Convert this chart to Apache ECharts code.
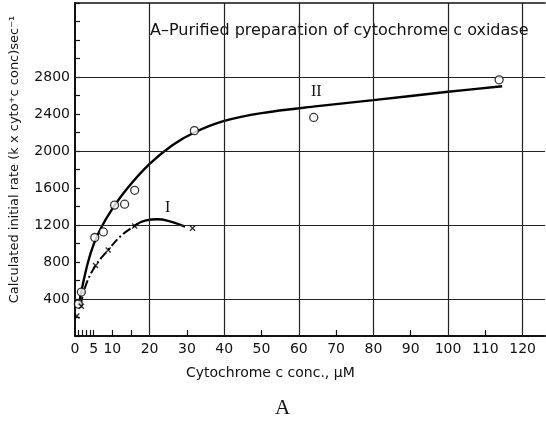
<!DOCTYPE html>
<html>
<head>
<meta charset="utf-8">
<script src="https://cdn.jsdelivr.net/npm/echarts@6/dist/echarts.min.js"></script>
<style>
  html, body { margin: 0; padding: 0; background: #fff; }
  #chart { width: 546px; height: 424px; }
</style>
</head>
<body>
<div id="chart"></div>
<script>
// Curve II: purified oxidase, measured points (open circles) and fitted curve
const pointsII = [[0.9, 345], [1.7, 475], [5.3, 1065], [7.6, 1125], [10.6, 1415], [13.3, 1425],
                  [16, 1575], [32, 2220], [64, 2363], [113.7, 2770]];
const curveII = [[1.0, 330], [2, 540], [3.5, 800], [5, 990], [7, 1170], [10, 1375], [14, 1595],
                 [20, 1860], [26, 2060], [32, 2200], [40, 2325], [50, 2410], [65, 2485],
                 [80, 2550], [100, 2640], [114.5, 2700]];
// Curve I: measured points (crosses), dash-dot rise and solid arc
const pointsI = [[0.5, 215], [1.7, 322], [5.5, 761], [8.9, 930], [16, 1190], [31.5, 1166]];
const curveIRise = [[1.5, 330], [3, 560], [5.5, 760], [8.9, 930], [12.5, 1090], [16, 1190]];
const curveIArc = [[16, 1192], [19, 1250], [22, 1262], [25, 1245], [29.5, 1182]];

// Axis ticks, labels and grid lines
const xLabelValues = [0, 5, 10, 20, 30, 40, 50, 60, 70, 80, 90, 100, 110, 120];
const xTickValues = [1, 2, 3, 4, 5, 10, 15, 30, 50, 70, 90, 110];
const xGridValues = [20, 40, 60, 80, 100, 120];
const yGridValues = [400, 1200, 2000, 2800];

const FONT = '"DejaVu Sans", sans-serif';
const crossPath = 'path://M0,0L10,10M10,0L0,10';

const chart = echarts.init(document.getElementById('chart'), null, { renderer: 'canvas' });

chart.setOption({
  animation: false,
  backgroundColor: '#fff',
  grid: { left: 71, right: 1, top: 3, bottom: 88 },
  xAxis: [{
    type: 'value', min: 0, max: 126, interval: 10,
    axisLine: { show: true, lineStyle: { color: '#111', width: 2 } },
    axisTick: { show: true, inside: true, length: 6, customValues: xTickValues,
                lineStyle: { color: '#111', width: 1.2 } },
    axisLabel: { customValues: xLabelValues, color: '#111', fontFamily: FONT, fontSize: 14, margin: 6 },
    splitLine: { show: false }
  }, {
    type: 'value', min: 0, max: 126, position: 'top',
    axisLine: { show: true, lineStyle: { color: '#111', width: 1.6 } },
    axisTick: { show: false }, axisLabel: { show: false }, splitLine: { show: false }
  }],
  yAxis: {
    type: 'value', min: 0, max: 3600, interval: 400,
    name: 'Calculated initial rate (k x cyto⁺c conc)sec⁻¹',
    nameLocation: 'middle', nameGap: 54,
    nameTextStyle: { color: '#111', fontFamily: FONT, fontSize: 13, padding: [0, 0, 0, 20] },
    axisLine: { show: true, lineStyle: { color: '#111', width: 2 } },
    axisTick: { show: true, inside: true, length: 5, lineStyle: { color: '#111', width: 1.2 } },
    minorTick: { show: true, splitNumber: 2, length: 5, lineStyle: { color: '#111', width: 1.2 } },
    axisLabel: {
      color: '#111', fontFamily: FONT, fontSize: 14, margin: 5,
      formatter: v => (v === 0 || v > 2800) ? '' : String(v)
    },
    splitLine: { show: false }
  },
  series: [
    {
      // grid lines
      type: 'line', data: [], silent: true,
      markLine: {
        silent: true, symbol: 'none', label: { show: false },
        lineStyle: { color: '#222', width: 1.2, type: 'solid' },
        data: xGridValues.map(v => ({ xAxis: v })).concat(yGridValues.map(v => ({ yAxis: v })))
      }
    },
    {
      name: 'II fit', type: 'line', data: curveII, smooth: 0.35, showSymbol: false,
      lineStyle: { color: '#000', width: 2.4 }, z: 3
    },
    {
      name: 'I rise', type: 'line', data: curveIRise, smooth: 0.4, showSymbol: false,
      lineStyle: { color: '#000', width: 2, type: [9, 3, 2, 3] }, z: 3
    },
    {
      name: 'I arc', type: 'line', data: curveIArc, smooth: 0.5, showSymbol: false,
      lineStyle: { color: '#000', width: 2.4 }, z: 3
    },
    {
      name: 'II', type: 'scatter', data: pointsII, symbol: 'circle', symbolSize: 8,
      itemStyle: { color: '#fff', borderColor: '#000', borderWidth: 1.3 }, z: 5
    },
    {
      name: 'I', type: 'scatter', data: pointsI, symbol: crossPath, symbolSize: 5,
      itemStyle: { color: 'none', borderColor: '#000', borderWidth: 1.4 }, z: 5
    }
  ],
  graphic: [
    { type: 'text', left: 150, top: 23,
      style: { text: 'A–Purified preparation of cytochrome c oxidase', fill: '#111',
               font: '16px ' + FONT } },
    { type: 'text', left: 165, top: 200,
      style: { text: 'I', fill: '#111', font: '16px "Liberation Serif", serif' } },
    { type: 'text', left: 311, top: 84,
      style: { text: 'II', fill: '#111', font: '16px "Liberation Serif", serif' } },
    { type: 'text', left: 186, top: 366,
      style: { text: 'Cytochrome c conc., μM', fill: '#111', font: '14px ' + FONT } },
    { type: 'text', left: 275, top: 398,
      style: { text: 'A', fill: '#111', font: '21px "Liberation Serif", serif' } }
  ]
});
</script>
</body>
</html>
